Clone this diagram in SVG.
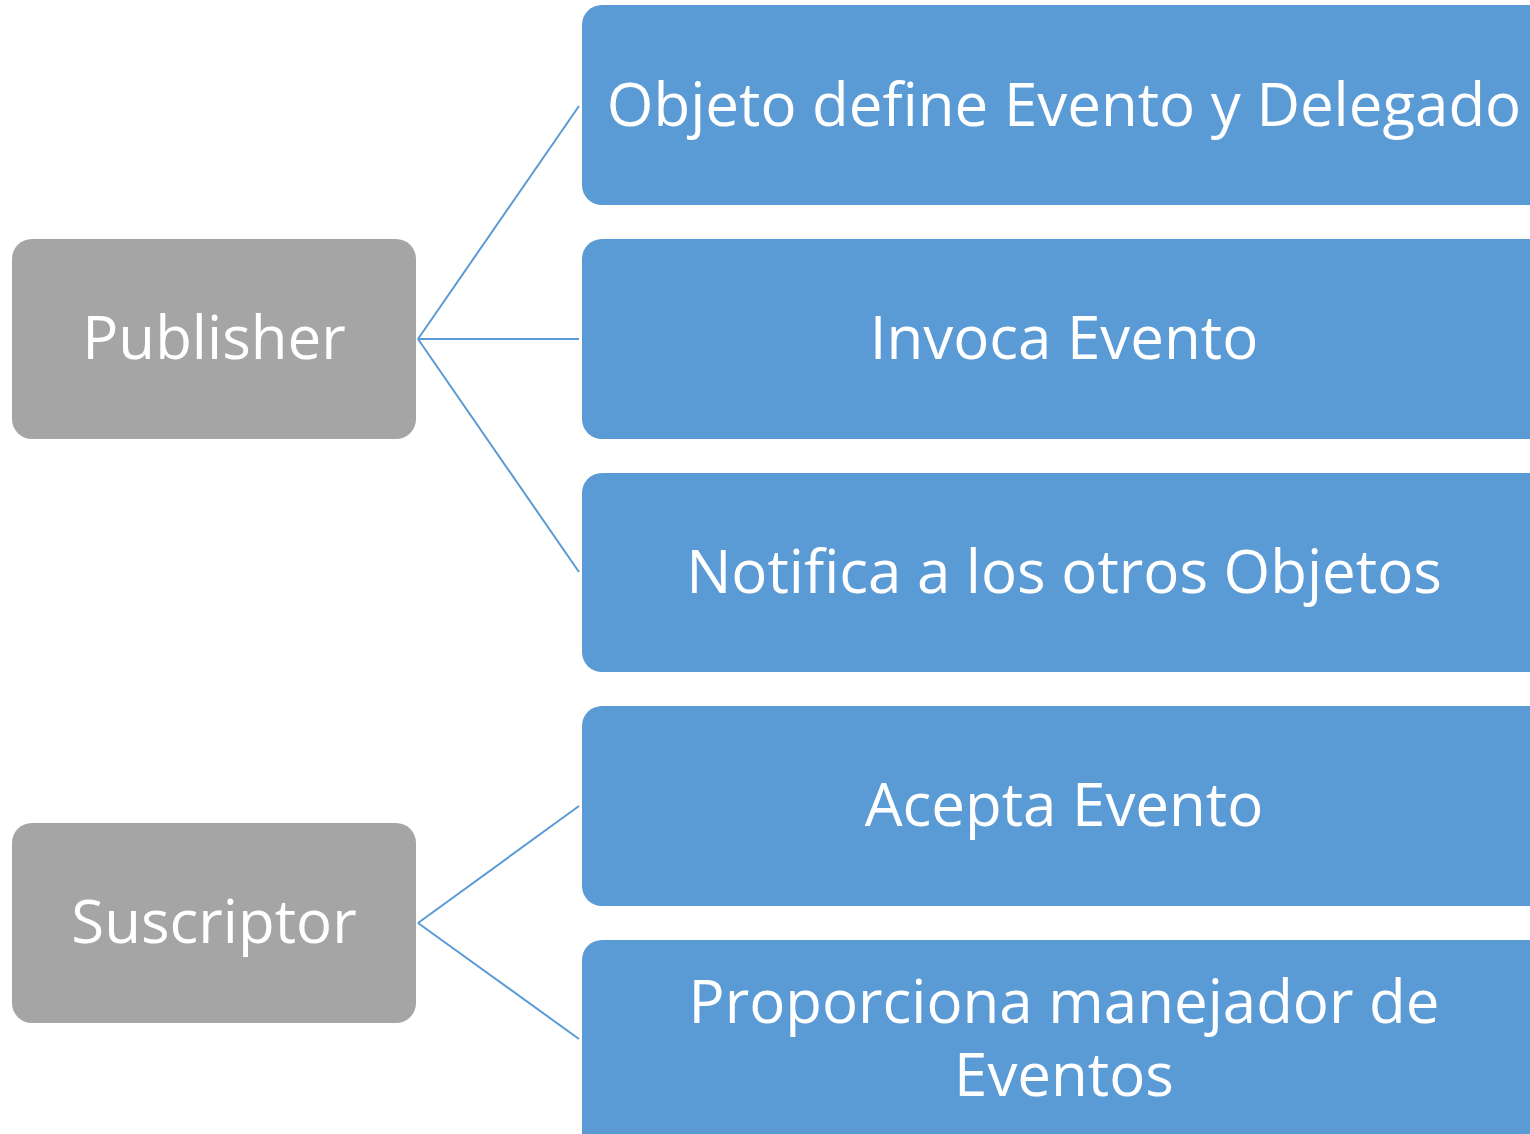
<svg xmlns="http://www.w3.org/2000/svg" width="1530" height="1134" viewBox="0 0 1530 1134">
<style>
.g{fill:#A5A5A5}
.b{fill:#5B9BD5}
.t{fill:#fff;font-family:"Open Sans","Liberation Sans",sans-serif;font-size:60px;text-anchor:middle}
.c{stroke:#5B9BD5;stroke-width:2;fill:none}
</style>
<rect width="1530" height="1134" fill="#fff"/>
<g id="connectors" class="c">
<line x1="418" y1="339" x2="579" y2="106"/>
<line x1="418" y1="339" x2="579" y2="339"/>
<line x1="418" y1="339" x2="579" y2="572"/>
<line x1="418" y1="923" x2="579" y2="806"/>
<line x1="418" y1="923" x2="579" y2="1039"/>
</g>
<g id="publisher"><rect class="g" x="12" y="239" width="404" height="200" rx="20"/><text class="t" x="214" y="359">Publisher</text></g>
<g id="suscriptor"><rect class="g" x="12" y="823" width="404" height="200" rx="20"/><text class="t" x="214" y="943">Suscriptor</text></g>
<g id="n1"><rect class="b" x="582" y="5" width="970" height="200" rx="20"/><text class="t" x="1064" y="126">Objeto define Evento y Delegado</text></g>
<g id="n2"><rect class="b" x="582" y="239" width="970" height="200" rx="20"/><text class="t" x="1064" y="359">Invoca Evento</text></g>
<g id="n3"><rect class="b" x="582" y="473" width="970" height="199" rx="20"/><text class="t" x="1064" y="593">Notifica a los otros Objetos</text></g>
<g id="n4"><rect class="b" x="582" y="706" width="970" height="200" rx="20"/><text class="t" x="1064" y="826">Acepta Evento</text></g>
<g id="n5"><rect class="b" x="582" y="940" width="970" height="220" rx="20"/><text class="t" x="1064" y="1023">Proporciona manejador de</text><text class="t" x="1064" y="1096">Eventos</text></g>
</svg>
